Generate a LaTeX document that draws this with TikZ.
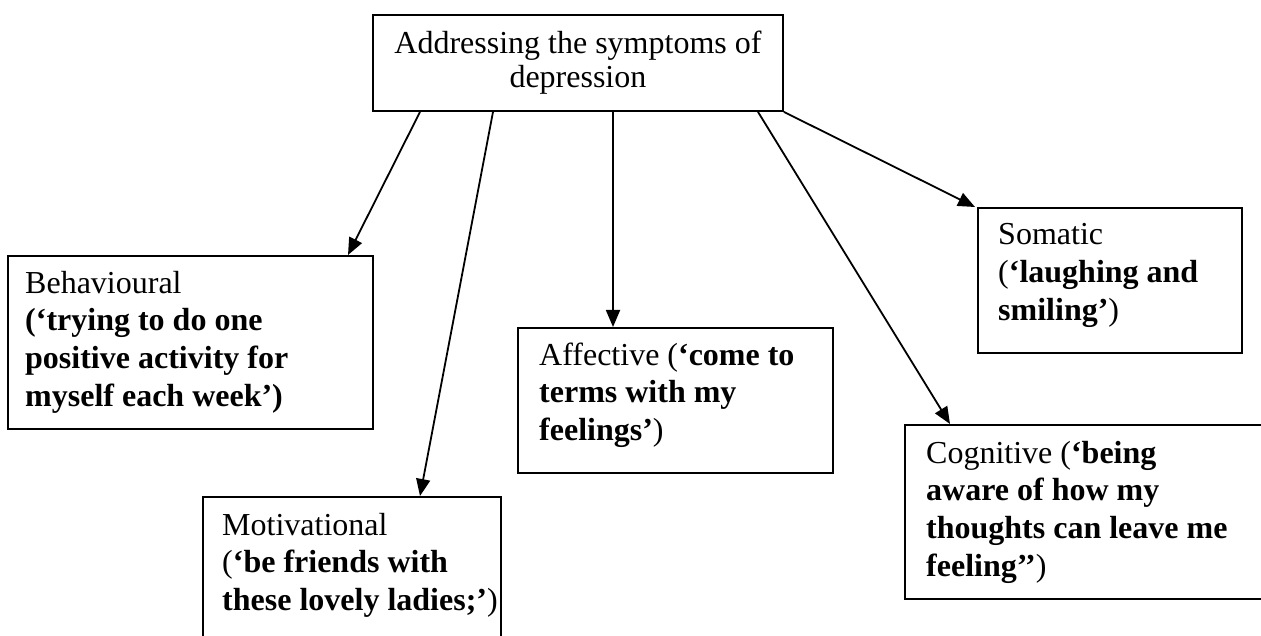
\documentclass[tikz,border=0pt]{standalone}
\usepackage{fontspec}
\setmainfont{Liberation Serif}
\usetikzlibrary{arrows.meta,calc}
\begin{document}
\begin{tikzpicture}[x=1pt,y=-1pt,
  box/.style={draw, line width=1.9pt, rectangle, inner sep=0pt, anchor=north west},
  % the base anchor of a multi-line node sits on its last line
  txt/.style={inner sep=0pt, anchor=base west, align=left, font=\fontsize{32}{37.8}\selectfont},
  arr/.style={line width=1.8pt, -{Triangle[length=17pt,width=14pt]}}]
\useasboundingbox (0,0) rectangle (1261,636);

% boxes
\node[box, minimum width=410pt, minimum height=96pt] (top) at (372,14) {};
\node[box, minimum width=365pt, minimum height=173pt] (beh) at (7,255) {};
\node[box, minimum width=298pt, minimum height=170pt] (mot) at (202,496) {};
\node[box, minimum width=315pt, minimum height=145pt] (aff) at (517,327) {};
\node[box, minimum width=370pt, minimum height=174pt] (cog) at (904,424) {};
\node[box, minimum width=264pt, minimum height=145pt] (som) at (977,207) {};

% texts
\node[inner sep=0pt, align=center, font=\fontsize{32}{34}\selectfont] (topT) at (top.center)
  {Addressing the symptoms of\\depression};
\node[txt] (behT) at ($(beh.north west)+(18,151.4)$)
  {Behavioural\\\textbf{(‘trying to do one}\\\textbf{positive activity for}\\\textbf{myself each week’)}};
\node[txt] (motT) at ($(mot.north west)+(20,114.6)$)
  {Motivational\\(\textbf{‘be friends with}\\\textbf{these lovely ladies;’})};
\node[txt] (affT) at ($(aff.north west)+(22,113.6)$)
  {Affective (\textbf{‘come to}\\\textbf{terms with my}\\\textbf{feelings’})};
\node[txt] (cogT) at ($(cog.north west)+(22,152.4)$)
  {Cognitive (\textbf{‘being}\\\textbf{aware of how my}\\\textbf{thoughts can leave me}\\\textbf{feeling’’})};
\node[txt] (somT) at ($(som.north west)+(21,113.6)$)
  {Somatic\\(\textbf{‘laughing and}\\\textbf{smiling’})};

% connectors
\draw[arr] ([xshift=48pt]top.south west) -- ([xshift=341pt]beh.north west);
\draw[arr] ([xshift=121pt]top.south west) -- ([xshift=218pt]mot.north west);
\draw[arr] ([xshift=241pt]top.south west) -- ([xshift=96pt]aff.north west);
\draw[arr] ([xshift=386pt]top.south west) -- ([xshift=46pt]cog.north west);
\draw[arr] (top.south east) -- ([xshift=-2pt]som.north west);
\end{tikzpicture}
\end{document}
